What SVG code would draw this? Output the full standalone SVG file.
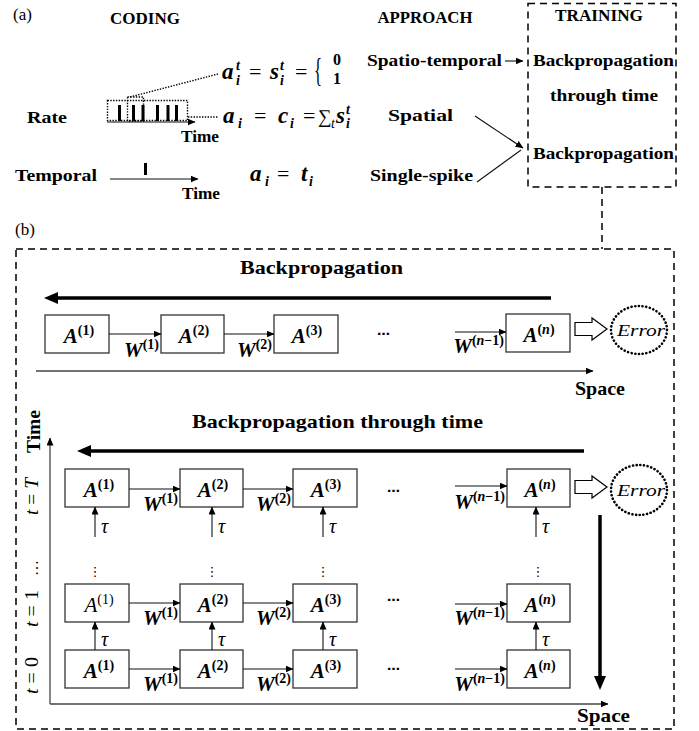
<svg xmlns="http://www.w3.org/2000/svg" width="699" height="731" viewBox="0 0 699 731">
<style>
text{font-family:"Liberation Serif","DejaVu Serif",serif;fill:#000}
.lbl{font-weight:bold;font-size:17.5px}
.ttl{font-weight:bold;font-size:19px}
.reg{font-size:17px}
.m{font-style:italic;font-weight:bold;font-size:21px}
.mn{font-style:italic;font-size:21px}
.sup{font-size:14px;font-style:normal;font-weight:bold}
.supn{font-size:14px;font-style:normal}
.it{font-style:italic}
.eq{font-size:22px;font-weight:normal;font-style:normal}
.fa{font-style:italic;font-weight:bold;font-size:23px}
.fs{font-style:italic;font-weight:bold;font-size:14px}
.tau{font-style:italic;font-size:20px}
.dots{font-family:"DejaVu Sans",sans-serif;font-size:13px}
.box{fill:#fff;stroke:#333;stroke-width:1.3}
.ln{stroke:#111;stroke-width:1.1;fill:none}
.ax{stroke:#444;stroke-width:1.3;fill:none}
.thick{stroke:#000;stroke-width:3.5;fill:none}
.dash{stroke:#000;stroke-width:1.5;stroke-dasharray:7 5;fill:none}
.dot{stroke:#000;stroke-width:1.4;stroke-dasharray:1.4 1.4;fill:none}
.err{fill:none;stroke:#000;stroke-width:2.6;stroke-dasharray:0.1 3.6;stroke-linecap:round}
.hollow{fill:#fff;stroke:#000;stroke-width:1.2}
</style>
<defs>
<marker id="ah" markerWidth="8" markerHeight="7" refX="7.5" refY="3.5" orient="auto" markerUnits="userSpaceOnUse"><path d="M0,0 L8,3.5 L0,7 z" fill="#000"/></marker>
<marker id="ahb" markerWidth="15" markerHeight="12" refX="2" refY="6" orient="auto" markerUnits="userSpaceOnUse"><path d="M0,0 L14,6 L0,12 z" fill="#000"/></marker>
</defs>

<!-- ===== Panel (a) ===== -->
<g id="panel-a-labels">
<text class="reg" x="13" y="20">(a)</text>
<text class="lbl" x="145" y="24" text-anchor="middle" textLength="70" lengthAdjust="spacingAndGlyphs">CODING</text>
<text class="lbl" x="425" y="23" text-anchor="middle" textLength="95" lengthAdjust="spacingAndGlyphs">APPROACH</text>
<text class="lbl" x="27" y="123" textLength="40" lengthAdjust="spacingAndGlyphs">Rate</text>
<text class="lbl" x="15" y="181" textLength="82" lengthAdjust="spacingAndGlyphs">Temporal</text>
<text class="lbl" x="181" y="142" textLength="38" lengthAdjust="spacingAndGlyphs">Time</text>
<text class="lbl" x="182" y="199" textLength="38" lengthAdjust="spacingAndGlyphs">Time</text>
</g>

<g id="rate-train">
<line class="ln" x1="107" y1="122" x2="195" y2="122" marker-end="url(#ah)"/>
<rect x="118" y="105" width="3" height="16"/>
<rect x="132" y="105" width="3" height="16"/>
<rect x="141.5" y="105" width="3" height="16"/>
<rect x="156" y="105" width="3" height="16"/>
<rect x="166.5" y="105" width="3" height="16"/>
<rect x="175" y="105" width="3" height="16"/>
<rect class="dot" x="107.5" y="100.5" width="80" height="20"/>
<rect class="dot" x="127.5" y="97" width="16" height="24"/>
<line class="dot" x1="130" y1="97" x2="218" y2="74"/>
<line class="dot" x1="188" y1="117" x2="218" y2="117"/>
</g>

<g id="temporal-train">
<line class="ln" x1="110" y1="179" x2="198" y2="179" marker-end="url(#ah)"/>
<rect x="144" y="163" width="3" height="12"/>
</g>

<g id="formula-1">
<text class="fa" x="222" y="79">a</text>
<text class="fs" x="236" y="70">t</text>
<text class="fs" x="236" y="85">i</text>
<text class="eq" x="249" y="79">=</text>
<text class="fa" x="270" y="79">s</text>
<text class="fs" x="280" y="70">t</text>
<text class="fs" x="280" y="85">i</text>
<text class="eq" x="295" y="79">=</text>
<text class="eq" x="314" y="81" style="font-size:34px" textLength="8" lengthAdjust="spacingAndGlyphs">{</text>
<text class="lbl" x="333" y="65" style="font-size:16px">0</text>
<text class="lbl" x="333" y="84" style="font-size:16px">1</text>
</g>
<g id="formula-2">
<text class="fa" x="223" y="123">a</text>
<text class="fs" x="238" y="128">i</text>
<text class="eq" x="254" y="123">=</text>
<text class="fa" x="278" y="123">c</text>
<text class="fs" x="290" y="128">i</text>
<text class="eq" x="303" y="123">=</text>
<text class="eq" x="318" y="123" style="font-size:19px">∑</text>
<text class="fs" x="331" y="128" style="font-weight:normal">t</text>
<text class="fa" x="336" y="123">s</text>
<text class="fs" x="346" y="114">t</text>
<text class="fs" x="346" y="128">i</text>
</g>
<g id="formula-3">
<text class="fa" x="250" y="181">a</text>
<text class="fs" x="265" y="186">i</text>
<text class="eq" x="277" y="181">=</text>
<text class="fa" x="301" y="181">t</text>
<text class="fs" x="309" y="186">i</text>
</g>

<g id="approach-labels">
<text class="lbl" x="367" y="66" textLength="135" lengthAdjust="spacingAndGlyphs">Spatio-temporal</text>
<text class="lbl" x="388" y="121" textLength="65" lengthAdjust="spacingAndGlyphs">Spatial</text>
<text class="lbl" x="370" y="181" textLength="103" lengthAdjust="spacingAndGlyphs">Single-spike</text>
</g>

<g id="training">
<rect class="dash" x="528" y="3.5" width="148" height="183.5"/>
<text class="lbl" x="599" y="21" text-anchor="middle" textLength="88" lengthAdjust="spacingAndGlyphs">TRAINING</text>
<text class="lbl" x="533" y="66" textLength="141" lengthAdjust="spacingAndGlyphs">Backpropagation</text>
<text class="lbl" x="550" y="101" textLength="108" lengthAdjust="spacingAndGlyphs">through time</text>
<text class="lbl" x="533" y="159" textLength="141" lengthAdjust="spacingAndGlyphs">Backpropagation</text>
</g>

<g id="connectors-a">
<line class="ln" x1="505" y1="61" x2="523" y2="61" marker-end="url(#ah)"/>
<line class="ln" x1="475" y1="116" x2="523" y2="148" marker-end="url(#ah)"/>
<line class="ln" x1="477" y1="182" x2="521" y2="150"/>
<line class="dash" x1="602" y1="187" x2="602" y2="249"/>
</g>

<!-- ===== Panel (b) ===== -->
<text class="reg" x="15" y="235">(b)</text>
<rect class="dash" x="16" y="249" width="658" height="480"/>

<!-- top: spatial backprop -->
<g id="bp-title">
<text class="ttl" x="240" y="274" textLength="163" lengthAdjust="spacingAndGlyphs">Backpropagation</text>
</g>
<g id="b1-A1"><rect class="box" x="45" y="315" width="64" height="38"/><text class="m" x="79" y="343" text-anchor="middle">A<tspan class="sup" dy="-8">(1)</tspan></text></g>
<g id="b1-A2"><rect class="box" x="161" y="315" width="63" height="38"/><text class="m" x="194" y="343" text-anchor="middle">A<tspan class="sup" dy="-8">(2)</tspan></text></g>
<g id="b1-A3"><rect class="box" x="274" y="315" width="64" height="38"/><text class="m" x="307" y="343" text-anchor="middle">A<tspan class="sup" dy="-8">(3)</tspan></text></g>
<g id="b1-An"><rect class="box" x="506" y="314" width="64" height="38"/><text class="m" x="539" y="342" text-anchor="middle">A<tspan class="sup" dy="-8">(<tspan class="it">n</tspan>)</tspan></text></g>
<g id="b1-err"><ellipse class="err" cx="639" cy="330" rx="28" ry="24"/><text class="reg it" x="641" y="336" text-anchor="middle" textLength="48" lengthAdjust="spacingAndGlyphs">Error</text></g>

<!-- bottom: BPTT -->
<g id="bptt-title">
<text class="ttl" x="192" y="428" textLength="291" lengthAdjust="spacingAndGlyphs">Backpropagation through time</text>
</g>
<g id="T-A1"><rect class="box" x="65" y="469" width="64" height="38"/><text class="m" x="99" y="497" text-anchor="middle">A<tspan class="sup" dy="-8">(1)</tspan></text></g>
<g id="T-A2"><rect class="box" x="180" y="469" width="63" height="38"/><text class="m" x="213" y="497" text-anchor="middle">A<tspan class="sup" dy="-8">(2)</tspan></text></g>
<g id="T-A3"><rect class="box" x="293" y="469" width="64" height="38"/><text class="m" x="326" y="497" text-anchor="middle">A<tspan class="sup" dy="-8">(3)</tspan></text></g>
<g id="T-An"><rect class="box" x="507" y="469" width="63" height="38"/><text class="m" x="540" y="497" text-anchor="middle">A<tspan class="sup" dy="-8">(<tspan class="it">n</tspan>)</tspan></text></g>
<g id="T-err"><ellipse class="err" cx="639" cy="490" rx="28" ry="25"/><text class="reg it" x="641" y="496" text-anchor="middle" textLength="48" lengthAdjust="spacingAndGlyphs">Error</text></g>

<g id="one-A1"><rect class="box" x="65" y="584" width="64" height="38"/><text class="mn" x="99" y="612" text-anchor="middle">A<tspan class="supn" dy="-8">(1)</tspan></text></g>
<g id="one-A2"><rect class="box" x="180" y="584" width="63" height="38"/><text class="m" x="213" y="612" text-anchor="middle">A<tspan class="sup" dy="-8">(2)</tspan></text></g>
<g id="one-A3"><rect class="box" x="293" y="584" width="64" height="38"/><text class="m" x="326" y="612" text-anchor="middle">A<tspan class="sup" dy="-8">(3)</tspan></text></g>
<g id="one-An"><rect class="box" x="507" y="584" width="63" height="38"/><text class="m" x="540" y="612" text-anchor="middle">A<tspan class="sup" dy="-8">(<tspan class="it">n</tspan>)</tspan></text></g>

<g id="zero-A1"><rect class="box" x="65" y="650" width="64" height="38"/><text class="m" x="99" y="678" text-anchor="middle">A<tspan class="sup" dy="-8">(1)</tspan></text></g>
<g id="zero-A2"><rect class="box" x="180" y="650" width="63" height="38"/><text class="m" x="213" y="678" text-anchor="middle">A<tspan class="sup" dy="-8">(2)</tspan></text></g>
<g id="zero-A3"><rect class="box" x="293" y="650" width="64" height="38"/><text class="m" x="326" y="678" text-anchor="middle">A<tspan class="sup" dy="-8">(3)</tspan></text></g>
<g id="zero-An"><rect class="box" x="507" y="650" width="63" height="38"/><text class="m" x="540" y="678" text-anchor="middle">A<tspan class="sup" dy="-8">(<tspan class="it">n</tspan>)</tspan></text></g>

<g id="axis-labels">
<text class="ttl" x="575" y="395" textLength="50" lengthAdjust="spacingAndGlyphs">Space</text>
<text class="ttl" x="577" y="722" textLength="53" lengthAdjust="spacingAndGlyphs">Space</text>
<text class="ttl" transform="translate(40,453) rotate(-90)" textLength="43" lengthAdjust="spacingAndGlyphs">Time</text>
<text class="reg" transform="translate(38,515) rotate(-90)" style="font-size:18px" textLength="37" lengthAdjust="spacingAndGlyphs"><tspan class="it">t</tspan> = <tspan class="it">T</tspan></text>
<text class="reg" transform="translate(38,576) rotate(-90)" style="font-size:16px">…</text>
<text class="reg" transform="translate(38,627) rotate(-90)" style="font-size:18px" textLength="37" lengthAdjust="spacingAndGlyphs"><tspan class="it">t</tspan> = 1</text>
<text class="reg" transform="translate(38,694) rotate(-90)" style="font-size:18px" textLength="37" lengthAdjust="spacingAndGlyphs"><tspan class="it">t</tspan> = 0</text>
</g>

<g id="ellipses">
<text class="dots" x="377" y="335" style="font-weight:bold">…</text>
<text class="dots" x="387" y="492" style="font-weight:bold">…</text>
<text class="dots" x="387" y="601" style="font-weight:bold">…</text>
<text class="dots" x="387" y="670" style="font-weight:bold">…</text>
<text class="dots" x="95" y="576" text-anchor="middle">⋮</text>
<text class="dots" x="212" y="576" text-anchor="middle">⋮</text>
<text class="dots" x="323" y="576" text-anchor="middle">⋮</text>
<text class="dots" x="538" y="576" text-anchor="middle">⋮</text>
</g>

<g id="connectors">
<!-- top section -->
<line class="thick" x1="551" y1="298" x2="56" y2="298" marker-end="url(#ahb)"/>
<line class="ln" x1="109" y1="334" x2="161" y2="334" marker-end="url(#ah)"/>
<line class="ln" x1="224" y1="334" x2="274" y2="334" marker-end="url(#ah)"/>
<line class="ln" x1="455" y1="332" x2="506" y2="332" marker-end="url(#ah)"/>
<path class="hollow" d="M575,322.5 L592,322.5 L592,318 L607,329 L592,340 L592,335.5 L575,335.5 Z"/>
<line class="ax" x1="36" y1="371" x2="593" y2="371" marker-end="url(#ah)"/>
<text class="m" x="159" y="357" text-anchor="end">W<tspan class="sup" dy="-8">(1)</tspan></text>
<text class="m" x="272" y="357" text-anchor="end">W<tspan class="sup" dy="-8">(2)</tspan></text>
<text class="m" x="504" y="353" text-anchor="end">W<tspan class="sup" dy="-8">(<tspan class="it">n</tspan>−1)</tspan></text>

<!-- bottom section -->
<line class="thick" x1="584" y1="451" x2="89" y2="451" marker-end="url(#ahb)"/>
<line class="thick" x1="600" y1="515" x2="600" y2="678" marker-end="url(#ahb)"/>
<line class="ax" x1="50" y1="704" x2="50" y2="438" marker-end="url(#ah)"/>
<line class="ax" x1="50" y1="704" x2="608" y2="704" marker-end="url(#ah)"/>
<path class="hollow" d="M575,480.5 L592,480.5 L592,476 L607,487 L592,498 L592,493.5 L575,493.5 Z"/>

<line class="ln" x1="129" y1="489" x2="180" y2="489" marker-end="url(#ah)"/>
<line class="ln" x1="243" y1="489" x2="293" y2="489" marker-end="url(#ah)"/>
<line class="ln" x1="455" y1="486" x2="507" y2="486" marker-end="url(#ah)"/>
<text class="m" x="178" y="511" text-anchor="end">W<tspan class="sup" dy="-8">(1)</tspan></text>
<text class="m" x="291" y="511" text-anchor="end">W<tspan class="sup" dy="-8">(2)</tspan></text>
<text class="m" x="505" y="509" text-anchor="end">W<tspan class="sup" dy="-8">(<tspan class="it">n</tspan>−1)</tspan></text>

<line class="ln" x1="129" y1="603" x2="180" y2="603" marker-end="url(#ah)"/>
<line class="ln" x1="243" y1="603" x2="293" y2="603" marker-end="url(#ah)"/>
<line class="ln" x1="455" y1="604" x2="507" y2="604" marker-end="url(#ah)"/>
<text class="m" x="178" y="625" text-anchor="end">W<tspan class="sup" dy="-8">(1)</tspan></text>
<text class="m" x="291" y="625" text-anchor="end">W<tspan class="sup" dy="-8">(2)</tspan></text>
<text class="m" x="505" y="625" text-anchor="end">W<tspan class="sup" dy="-8">(<tspan class="it">n</tspan>−1)</tspan></text>

<line class="ln" x1="129" y1="669" x2="180" y2="669" marker-end="url(#ah)"/>
<line class="ln" x1="243" y1="669" x2="293" y2="669" marker-end="url(#ah)"/>
<line class="ln" x1="455" y1="669" x2="507" y2="669" marker-end="url(#ah)"/>
<text class="m" x="178" y="691" text-anchor="end">W<tspan class="sup" dy="-8">(1)</tspan></text>
<text class="m" x="291" y="691" text-anchor="end">W<tspan class="sup" dy="-8">(2)</tspan></text>
<text class="m" x="505" y="691" text-anchor="end">W<tspan class="sup" dy="-8">(<tspan class="it">n</tspan>−1)</tspan></text>

<!-- tau arrows -->
<line class="ln" x1="95" y1="537" x2="95" y2="507" marker-end="url(#ah)"/>
<line class="ln" x1="212" y1="537" x2="212" y2="507" marker-end="url(#ah)"/>
<line class="ln" x1="323" y1="537" x2="323" y2="507" marker-end="url(#ah)"/>
<line class="ln" x1="536" y1="537" x2="536" y2="507" marker-end="url(#ah)"/>
<text class="tau" x="101" y="533">τ</text>
<text class="tau" x="218" y="533">τ</text>
<text class="tau" x="329" y="533">τ</text>
<text class="tau" x="542" y="533">τ</text>

<line class="ln" x1="95" y1="650" x2="95" y2="622" marker-end="url(#ah)"/>
<line class="ln" x1="212" y1="650" x2="212" y2="622" marker-end="url(#ah)"/>
<line class="ln" x1="323" y1="650" x2="323" y2="622" marker-end="url(#ah)"/>
<line class="ln" x1="536" y1="650" x2="536" y2="622" marker-end="url(#ah)"/>
<text class="tau" x="101" y="646">τ</text>
<text class="tau" x="218" y="646">τ</text>
<text class="tau" x="329" y="646">τ</text>
<text class="tau" x="542" y="646">τ</text>
</g>
</svg>
